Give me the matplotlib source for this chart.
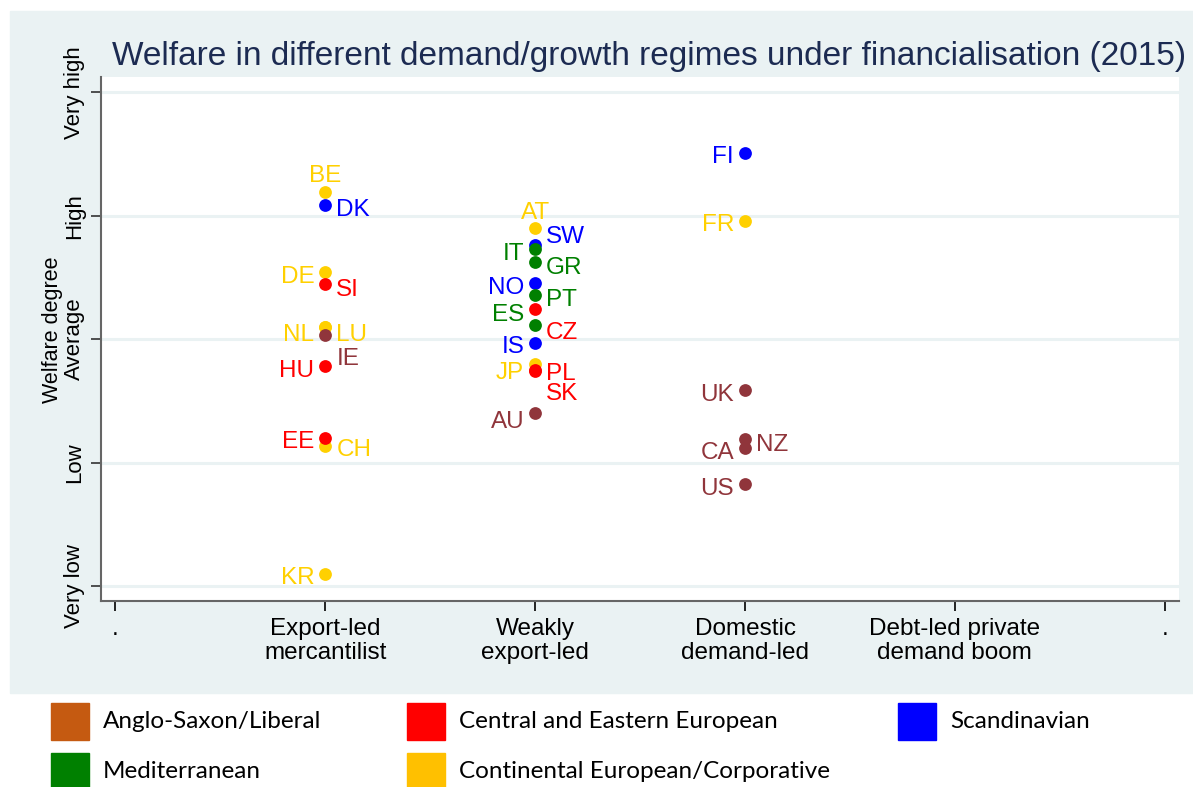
import matplotlib
matplotlib.use("Agg")
import matplotlib.pyplot as plt
from matplotlib.patches import Rectangle

plt.rcParams["font.family"] = ["Liberation Sans", "DejaVu Sans"]

# categories on the axes
regimes = [".", "Export-led\nmercantilist", "Weakly\nexport-led",
           "Domestic\ndemand-led", "Debt-led private\ndemand boom", "."]
welfare_levels = ["Very low", "Low", "Average", "High", "Very high"]

# one entry per country: regime position (1..4), welfare score (0 = very low .. 4 = very high)
countries = ["BE", "DK", "DE", "SI", "NL", "LU", "IE", "HU", "EE", "CH", "KR",
             "AT", "SW", "IT", "GR", "NO", "PT", "CZ", "ES", "IS", "JP", "PL", "SK", "AU",
             "FI", "FR", "UK", "NZ", "CA", "US"]
regime = [1, 1, 1, 1, 1, 1, 1, 1, 1, 1, 1,
          2, 2, 2, 2, 2, 2, 2, 2, 2, 2, 2, 2, 2,
          3, 3, 3, 3, 3, 3]
welfare = [3.19, 3.09, 2.545, 2.45, 2.10, 2.10, 2.03, 1.78, 1.20, 1.135, 0.10,
           2.90, 2.76, 2.73, 2.625, 2.455, 2.355, 2.245, 2.115, 1.97, 1.80, 1.75, 1.745, 1.40,
           3.51, 2.96, 1.59, 1.19, 1.115, 0.825]
group = ["cont", "scand", "cont", "cee", "cont", "cont", "anglo", "cee", "cee", "cont", "cont",
         "cont", "scand", "med", "med", "scand", "med", "cee", "med", "scand", "cont", "cee", "cee", "anglo",
         "scand", "cont", "anglo", "anglo", "anglo", "anglo"]

legend_names = ["Anglo-Saxon/Liberal", "Central and Eastern European", "Scandinavian",
                "Mediterranean", "Continental European/Corporative"]
legend_keys = ["anglo", "cee", "scand", "med", "cont"]

# styling
dot_colors = {"cont": "#FFD000", "scand": "#0000FF", "med": "#008000",
              "cee": "#FF0000", "anglo": "#90353B"}
legend_colors = {"anglo": "#C55A11", "cee": "#FF0000", "scand": "#0000FF",
                 "med": "#008000", "cont": "#FFC000"}
draw_order = ["cont", "scand", "med", "cee", "anglo"]
# label side and vertical shift (px, down positive) of label centre vs dot
label_pos = {"BE": ("t", -19), "DK": ("r", 2.4), "DE": ("l", 2.3), "SI": ("r", 3.4),
             "NL": ("l", 5), "LU": ("r", 5), "IE": ("r", 21), "HU": ("l", 1.6),
             "EE": ("l", 1.7), "CH": ("r", 1.3), "KR": ("l", 2),
             "AT": ("t", -18), "SW": ("r", -11), "IT": ("l", 2.4), "GR": ("r", 3.3),
             "NO": ("l", 2.3), "PT": ("r", 2), "CZ": ("r", 21), "ES": ("l", -13),
             "IS": ("l", 1.3), "JP": ("l", 6), "PL": ("r", 1), "SK": ("r", 21),
             "AU": ("l", 6), "FI": ("l", 1.3), "FR": ("l", 2), "UK": ("l", 2.4),
             "NZ": ("r", 2.7), "CA": ("l", 2.4), "US": ("l", 2)}

W, H = 1193, 787
bg = "#EAF2F3"
fig = plt.figure(figsize=(W / 100, H / 100), dpi=100, facecolor="white")
fig.patches.append(Rectangle((10 / W, 1 - 693 / H), (W - 10) / W, 682 / H,
                             transform=fig.transFigure, color=bg, zorder=-5))

ax = fig.add_axes([100.7 / W, 1 - 601 / H, 1078.6 / W, 523.7 / H])
ax.set_zorder(2)
ax.set_facecolor("white")
ax.set_xlim(-0.0705, 5.0696)
ax.set_ylim(-0.1216, 4.122)

ax.set_xticks(range(len(regimes)))
ax.set_xticklabels(regimes, fontsize=17.5, linespacing=1.12)
ax.set_yticks(range(len(welfare_levels)))
ax.set_yticklabels(welfare_levels, fontsize=16, rotation=90, va="center")
ax.tick_params(axis="x", length=7, width=1.2, pad=5, color="black")
ax.tick_params(axis="y", length=7, width=1.2, pad=4, color="#333333")
ax.yaxis.grid(True, color=bg, lw=2.2, zorder=0)
ax.set_axisbelow(True)
for side in ["top", "right"]:
    ax.spines[side].set_visible(False)
for side in ["left", "bottom"]:
    ax.spines[side].set_color("#666666")
    ax.spines[side].set_linewidth(1.5)

label_size = 17.5
cap = label_size * 100 / 72 * 0.716
for g in draw_order:
    idx = [i for i, k in enumerate(group) if k == g]
    ax.plot([regime[i] for i in idx], [welfare[i] for i in idx], "o",
            color=dot_colors[g], ms=9.2, mew=0, zorder=3, clip_on=False)
for i, c in enumerate(countries):
    side, dy = label_pos[c]
    if side == "t":
        ha, dx = "center", 0
    elif side == "l":
        ha, dx = "right", -11
    else:
        ha, dx = "left", 11
    ax.annotate(c, (regime[i], welfare[i]), xytext=(dx, -(dy + cap / 2)),
                textcoords="offset pixels", ha=ha, va="baseline",
                fontsize=label_size, color=dot_colors[group[i]], zorder=4)

fig.text(111.7 / W, 1 - 65 / H,
         "Welfare in different demand/growth regimes under financialisation (2015)",
         ha="left", va="baseline", fontsize=24, color="#1c2b52")
fig.text(53 / W, 1 - 330 / H, "Welfare degree", rotation=90, ha="center",
         va="center", fontsize=15.5)

# legend below the chart
col_x = [51, 407, 898]
row_y = [721, 771]
for j, (name, key) in enumerate(zip(legend_names, legend_keys)):
    x0 = col_x[j % 3]
    y0 = row_y[j // 3]
    fig.patches.append(Rectangle((x0 / W, 1 - (y0 + 18.5) / H), 37.5 / W, 37 / H,
                                 transform=fig.transFigure,
                                 color=legend_colors[key], zorder=1))
    fig.text((x0 + 52) / W, 1 - y0 / H, name, ha="left", va="center",
             fontsize=17.5, family=["Lato", "DejaVu Sans"])

fig.savefig("out.png", dpi=100, facecolor="white")
